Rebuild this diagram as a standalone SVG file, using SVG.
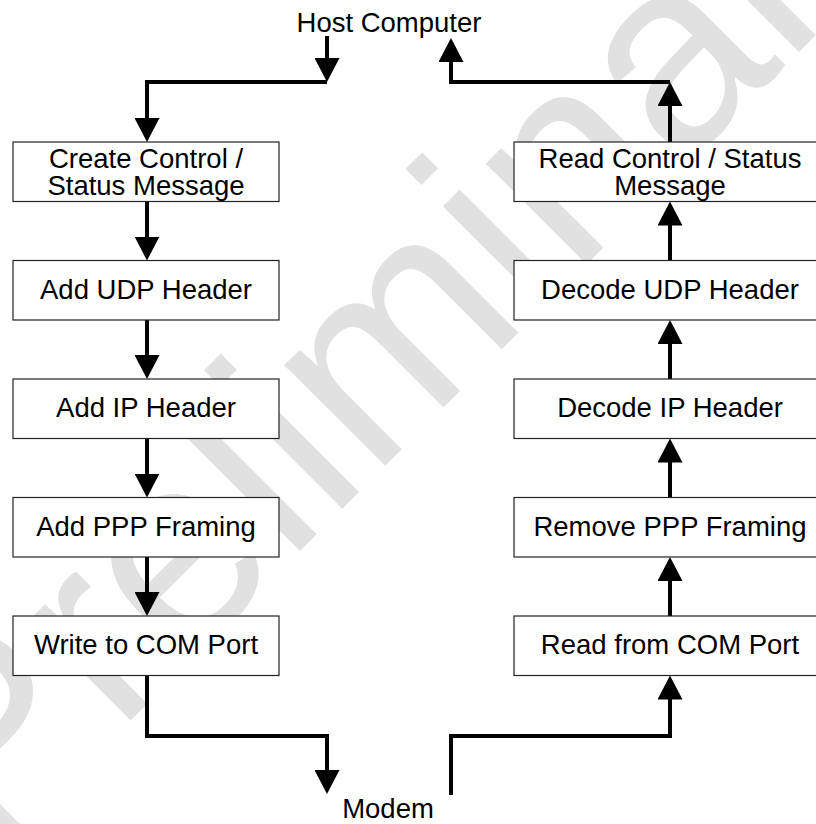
<svg xmlns="http://www.w3.org/2000/svg" width="816" height="824" viewBox="0 0 816 824">
  <defs>
    <marker id="arr" viewBox="0 -12.5 24 25" refX="2" refY="0" markerWidth="24" markerHeight="25" markerUnits="userSpaceOnUse" orient="auto">
      <path d="M0,-12.5 L24,0 L0,12.5 z" fill="#000"/>
    </marker>
  </defs>
  <style>
    .box { fill: #fff; stroke: #222; stroke-width: 1.2; }
    .lbl { font-family: "Liberation Sans", Arial, sans-serif; font-size: 27.5px; fill: #000; text-anchor: middle; }
    .conn { fill: none; stroke: #000; stroke-width: 4; stroke-linejoin: miter; stroke-linecap: butt; marker-end: url(#arr); }
    .wm { font-family: "Liberation Sans", Arial, sans-serif; font-size: 270px; fill: #e1e1e1; }
  </style>
  <rect width="816" height="824" fill="#fff"/>
  <text class="wm" x="-10" y="861" transform="rotate(-45 -10 861)">Preliminary</text>

  <g id="connectors">
    <path class="conn" d="M327,36 V60"/>
    <path class="conn" d="M327,82 H147 V120"/>
    <path class="conn" d="M147,201.5 V238.5"/>
    <path class="conn" d="M147,320 V357"/>
    <path class="conn" d="M147,438.5 V475.5"/>
    <path class="conn" d="M147,557 V594"/>
    <path class="conn" d="M147,675.5 V736 H327 V772"/>
    <path class="conn" d="M451,795 V736 H670 V697.5"/>
    <path class="conn" d="M670,616 V579"/>
    <path class="conn" d="M670,497.5 V460.5"/>
    <path class="conn" d="M670,379 V342"/>
    <path class="conn" d="M670,260.5 V223.5"/>
    <path class="conn" d="M670,142 V104"/>
    <path class="conn" d="M670,82 H451 V60"/>
  </g>

  <g id="host"><text class="lbl" x="389" y="31.5">Host Computer</text></g>
  <g id="modem"><text class="lbl" x="388" y="818">Modem</text></g>

  <g id="create">
    <rect class="box" x="13" y="142" width="266" height="59.5"/>
    <text class="lbl" x="146" y="168">Create Control /<tspan x="146" y="195">Status Message</tspan></text>
  </g>
  <g id="addudp">
    <rect class="box" x="13" y="260.5" width="266" height="59.5"/>
    <text class="lbl" x="146" y="298.5">Add UDP Header</text>
  </g>
  <g id="addip">
    <rect class="box" x="13" y="379" width="266" height="59.5"/>
    <text class="lbl" x="146" y="417">Add IP Header</text>
  </g>
  <g id="addppp">
    <rect class="box" x="13" y="497.5" width="266" height="59.5"/>
    <text class="lbl" x="146" y="535.5">Add PPP Framing</text>
  </g>
  <g id="writecom">
    <rect class="box" x="13" y="616" width="266" height="59.5"/>
    <text class="lbl" x="146" y="654">Write to COM Port</text>
  </g>

  <g id="readctl">
    <rect class="box" x="514" y="142" width="312" height="59.5"/>
    <text class="lbl" x="670" y="168">Read Control / Status<tspan x="670" y="195">Message</tspan></text>
  </g>
  <g id="decudp">
    <rect class="box" x="514" y="260.5" width="312" height="59.5"/>
    <text class="lbl" x="670" y="298.5">Decode UDP Header</text>
  </g>
  <g id="decip">
    <rect class="box" x="514" y="379" width="312" height="59.5"/>
    <text class="lbl" x="670" y="417">Decode IP Header</text>
  </g>
  <g id="remppp">
    <rect class="box" x="514" y="497.5" width="312" height="59.5"/>
    <text class="lbl" x="670" y="535.5">Remove PPP Framing</text>
  </g>
  <g id="readcom">
    <rect class="box" x="514" y="616" width="312" height="59.5"/>
    <text class="lbl" x="670" y="654">Read from COM Port</text>
  </g>
</svg>
